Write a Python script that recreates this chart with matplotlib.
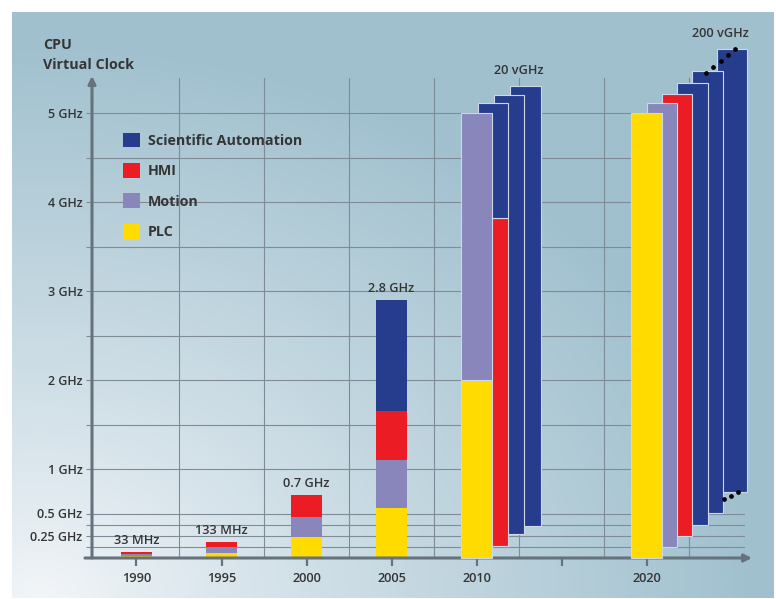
import numpy as np
import matplotlib
matplotlib.use('Agg')
import matplotlib.pyplot as plt
from matplotlib.patches import Patch

plt.rcParams['font.family'] = ['Open Sans', 'DejaVu Sans']

# ---------------- data ----------------
series = ['Scientific Automation', 'HMI', 'Motion', 'PLC']
series_colors = ['#263d8e', '#ec1c24', '#8886bb', '#ffdb00']

years = [1990, 1995, 2000, 2005]
plc = [0.02, 0.06, 0.24, 0.56]
motion = [0.02, 0.06, 0.22, 0.54]
hmi = [0.03, 0.06, 0.25, 0.55]
sci = [0.0, 0.0, 0.0, 1.25]
total_labels = ['33 MHz', '133 MHz', '0.7 GHz', '2.8 GHz']

# 2010: stepped (pseudo 3-D) bars, front to back
g2010_base = [0.0, 0.13, 0.27, 0.36]
g2010_plc = [2.0, 0.0, 0.0, 0.0]
g2010_motion = [3.0, 0.0, 0.0, 0.0]
g2010_hmi = [0.0, 3.69, 0.0, 0.0]
g2010_sci = [0.0, 1.29, 4.93, 4.94]
g2010_label = '20 vGHz'

# 2020: stepped bars, front to back
g2020_base = [0.0, 0.12, 0.25, 0.37, 0.51, 0.74]
g2020_plc = [5.0, 0.0, 0.0, 0.0, 0.0, 0.0]
g2020_motion = [0.0, 4.99, 0.0, 0.0, 0.0, 0.0]
g2020_hmi = [0.0, 0.0, 4.96, 0.0, 0.0, 0.0]
g2020_sci = [0.0, 0.0, 0.0, 4.97, 4.96, 4.98]
g2020_label = '200 vGHz'

ytick_vals = [0.25, 0.5, 1, 2, 3, 4, 5]
ytick_labels = ['0.25 GHz', '0.5 GHz', '1 GHz', '2 GHz', '3 GHz', '4 GHz', '5 GHz']
yminor_vals = [0.125, 0.375, 1.5, 2.5, 3.5, 4.5]
xtick_vals = [1990, 1995, 2000, 2005, 2010, 2015, 2020]
xtick_labels = ['1990', '1995', '2000', '2005', '2010', '', '2020']
xgrid_vals = [1992.5, 1997.5, 2002.5, 2007.5, 2012.5, 2017.5, 2022.5]

# ---------------- layout ----------------
W, H = 776, 599
PX_PER_YEAR = 17.0
X1990_PX = 136.5
BASE_PY = 558
PX_PER_GHZ = 89.0


def fx(px):
    return 1990 + (px - X1990_PX) / PX_PER_YEAR


def fy(py):
    return (BASE_PY - py) / PX_PER_GHZ


fig = plt.figure(figsize=(W / 100, H / 100), dpi=100)

# background gradient panel
bg = fig.add_axes([0, 0, 1, 1])
bg.set_zorder(0)
yy, xx = np.mgrid[0:H, 0:W]
d = np.sqrt(((xx - 40) / 720.0) ** 2 + ((H - yy) / 560.0) ** 2)
t = np.clip(d, 0, 1) ** 0.9
light = np.array([243, 246, 249]) / 255.0
dark = np.array([160, 192, 206]) / 255.0
img = light[None, None, :] + (dark - light)[None, None, :] * t[..., None]
mask = (xx >= 12) & (xx <= 773) & (yy >= 12) & (yy <= 597)
img[~mask] = 1.0
bg.imshow(img, extent=(0, W, H, 0), interpolation='bilinear')
bg.set_xlim(0, W)
bg.set_ylim(H, 0)
bg.axis('off')

ax_left_px, ax_right_px, ax_top_py = 92, 745, 78
ax = fig.add_axes([ax_left_px / W, (H - BASE_PY) / H,
                   (ax_right_px - ax_left_px) / W, (BASE_PY - ax_top_py) / H])
ax.set_zorder(1)
ax.patch.set_alpha(0)
ax.set_xlim(fx(ax_left_px), fx(ax_right_px))
ax.set_ylim(0, fy(ax_top_py))

grid_c = '#7f8c97'
axis_c = '#66727c'
text_c = '#353535'

for s in ax.spines.values():
    s.set_visible(False)

ax.set_yticks(ytick_vals, ytick_labels)
ax.set_yticks(yminor_vals, minor=True)
ax.set_xticks(xtick_vals, xtick_labels)
ax.set_xticks(xgrid_vals, minor=True)
ax.tick_params(axis='y', which='both', direction='out', length=4.3, width=0.8,
               color=grid_c, pad=2.5, labelsize=9, labelcolor=text_c)
ax.tick_params(axis='x', which='major', direction='out', length=5.5, width=1.6,
               color=axis_c, pad=4.5, labelsize=9.2, labelcolor=text_c)
ax.tick_params(axis='x', which='minor', length=0)
for lab in ax.get_xticklabels() + ax.get_yticklabels():
    lab.set_fontweight('semibold')

ax.set_axisbelow(True)
ax.yaxis.grid(True, which='both', color=grid_c, lw=0.8)
ax.xaxis.grid(True, which='minor', color=grid_c, lw=0.8)
ax.xaxis.grid(False, which='major')

# axes arrows
ax.annotate('', xy=(fx(752), 0), xytext=(fx(85), 0),
            arrowprops=dict(arrowstyle='-|>', color=axis_c, lw=2.2, mutation_scale=11,
                            shrinkA=0, shrinkB=0),
            annotation_clip=False, zorder=6)
ax.annotate('', xy=(fx(ax_left_px), fy(76)), xytext=(fx(ax_left_px), 0),
            arrowprops=dict(arrowstyle='-|>', color=axis_c, lw=2.2, mutation_scale=11,
                            shrinkA=0, shrinkB=0),
            annotation_clip=False, zorder=6)

BAR_W = 1.8
color_of = dict(zip(series, series_colors))

# simple stacked bars
bottom = np.zeros(len(years))
for name, vals in [('PLC', plc), ('Motion', motion), ('HMI', hmi), ('Scientific Automation', sci)]:
    v = np.array(vals)
    ax.bar(years, v, BAR_W, bottom=bottom, color=color_of[name], linewidth=0, zorder=3)
    bottom = bottom + v
for x, top, lab in zip(years, bottom, total_labels):
    ax.annotate(lab, (x, top), xytext=(0, 3.5), textcoords='offset points',
                ha='center', va='bottom', fontsize=9.2, color=text_c, fontweight='semibold')


def draw_group(center, step, offsets_idx, base, seg_lists):
    n = len(base)
    lefts = []
    tops = []
    for i in reversed(range(n)):
        x = center + step * offsets_idx[i]
        b = base[i]
        for name, vals in seg_lists:
            h = vals[i]
            if h > 0:
                ax.bar(x, h, BAR_W, bottom=b, color=color_of[name], edgecolor='#cfd6e6',
                       linewidth=0.8, zorder=10 + n - i, clip_on=False)
                b += h
        lefts.append(x - BAR_W / 2)
        tops.append(b)
    return lefts[::-1], tops[::-1]


segs2010 = [('PLC', g2010_plc), ('Motion', g2010_motion), ('HMI', g2010_hmi),
            ('Scientific Automation', g2010_sci)]
l10, t10 = draw_group(2010, 0.96, [0, 1, 2, 3], g2010_base, segs2010)

segs2020 = [('PLC', g2020_plc), ('Motion', g2020_motion), ('HMI', g2020_hmi),
            ('Scientific Automation', g2020_sci)]
l20, t20 = draw_group(2020, 0.9, [0, 1, 2, 3, 4, 5.6], g2020_base, segs2020)

ax.text(fx(519), t10[-1] + 0.1, g2010_label, ha='center', va='bottom', fontsize=9.2,
        color=text_c, fontweight='semibold', clip_on=False)
ax.text(fx(720), t20[-1] + 0.1, g2020_label, ha='center', va='bottom', fontsize=9.2,
        color=text_c, fontweight='semibold', clip_on=False)

# dotted "skipped bars" markers between the last two 2020 bars
xa = l20[-2] + 0.45 * BAR_W
xb = l20[-1] + 0.6 * BAR_W
ax.plot(np.linspace(xa, xb, 5), np.linspace(t20[-2] - 0.02, t20[-1], 5), 'o', ms=2.4,
        color='black', clip_on=False, zorder=30)
xa = l20[-2] + BAR_W * 1.02
xb = l20[-1] + 0.68 * BAR_W
ax.plot(np.linspace(xa, xb, 3), np.linspace(g2020_base[-2] + 0.15, g2020_base[-1], 3), 'o',
        ms=2.4, color='black', clip_on=False, zorder=30)

# legend
handles = [Patch(facecolor=c, edgecolor='none') for c in series_colors]
ax.legend(handles, series, loc='upper left', bbox_to_anchor=(122.5 / W, 1 - 132.5 / H),
          bbox_transform=fig.transFigure, frameon=False, borderpad=0, borderaxespad=0,
          handlelength=1.2, handleheight=1.2, handletextpad=0.55, labelspacing=1.07,
          prop=dict(weight='bold', size=10.3), labelcolor=text_c)

fig.text(43 / W, 1 - 38 / H, 'CPU\nVirtual Clock', ha='left', va='top', fontsize=10.3,
         fontweight='bold', color=text_c, linespacing=1.55)

fig.savefig('out.png', dpi=100)
